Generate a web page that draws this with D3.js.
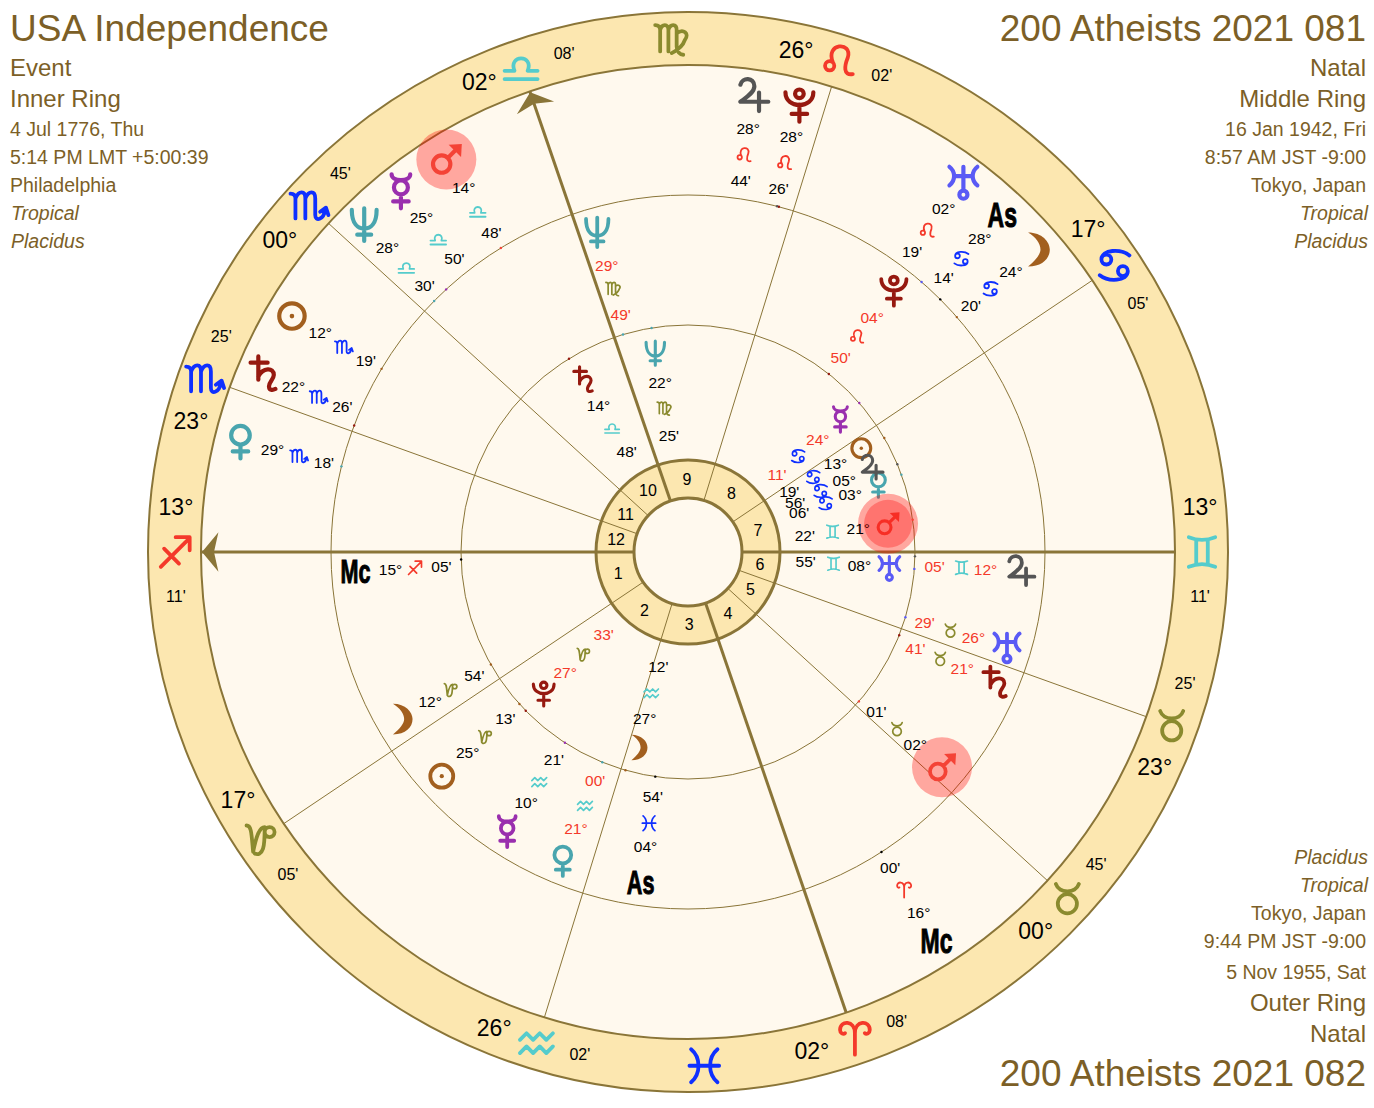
<!DOCTYPE html>
<html lang="en">
<head>
<meta charset="utf-8">
<style>
body { margin: 0; background: #fff; }
svg { display: block; font-family: "Liberation Sans", Arial, sans-serif; }
</style>
</head>
<body>
<svg width="1374" height="1108"></svg>
<script src="https://d3js.org/d3.v7.min.js"></script>
<script>
// zodiac order, longitude = index * 30 + degrees
var signs = ["Ari","Tau","Gem","Can","Leo","Vir","Lib","Sco","Sag","Cap","Aqu","Pis"];

// house cusps 1..12: degree, sign, minute
var cusps = [
  [13,"Sag",11],[17,"Cap",5],[26,"Aqu",2],[2,"Ari",8],[0,"Tau",45],[23,"Tau",25],
  [13,"Gem",11],[17,"Can",5],[26,"Leo",2],[2,"Lib",8],[0,"Sco",45],[23,"Sco",25]
];
// signs with no cusp in them, only the glyph is printed
var intercepted = ["Vir","Pis"];

// body, degree, sign, minute, retrograde, longitude where the label column sits
var innerBodies = [
  ["Sun",13,"Can",19,false,104.1],
  ["Moon",27,"Aqu",12,false,328.6],
  ["Mercury",24,"Can",11,true,114.2],
  ["Venus",3,"Can",6,false,92.7],
  ["Mars",21,"Gem",22,false,81.2],
  ["Jupiter",5,"Can",56,false,97.9],
  ["Saturn",14,"Lib",48,false,194.5],
  ["Uranus",8,"Gem",55,false,68.6],
  ["Neptune",22,"Vir",25,false,172.5],
  ["Pluto",27,"Cap",33,true,297.6]
];
var middleBodies = [
  ["Sun",25,"Cap",13,false,295.5],
  ["Moon",12,"Cap",54,false,283.3],
  ["Mercury",10,"Aqu",21,false,310.3],
  ["Venus",21,"Aqu",0,true,321.1],
  ["Mars",2,"Tau",1,false,32.9],
  ["Jupiter",12,"Gem",5,true,69.9],
  ["Saturn",21,"Tau",41,true,50.2],
  ["Uranus",26,"Tau",29,true,56.5],
  ["Neptune",29,"Vir",49,true,179],
  ["Pluto",4,"Leo",50,true,125],
  ["As",4,"Pis",54,false,335],
  ["Mc",15,"Sag",5,false,256.5]
];
var outerBodies = [
  ["Sun",12,"Sco",19,false,222.4],
  ["Moon",24,"Can",20,false,114.2],
  ["Mercury",25,"Lib",50,false,201.7],
  ["Venus",29,"Sco",18,false,239.3],
  ["Mars",14,"Lib",48,false,194.8],
  ["Jupiter",28,"Leo",44,false,155.1],
  ["Saturn",22,"Sco",26,false,230.4],
  ["Uranus",2,"Leo",19,false,126.5],
  ["Neptune",28,"Lib",30,false,207.8],
  ["Pluto",28,"Leo",26,false,149.2],
  ["As",28,"Can",14,false,120.2],
  ["Mc",16,"Ari",0,false,15.8]
];

// corner captions
var innerCaption = ["USA Independence","Event","Inner Ring","4 Jul 1776, Thu","5:14 PM LMT +5:00:39","Philadelphia","Tropical","Placidus"];
var middleCaption = ["200 Atheists 2021 081","Natal","Middle Ring","16 Jan 1942, Fri","8:57 AM JST -9:00","Tokyo, Japan","Tropical","Placidus"];
var outerCaption = ["200 Atheists 2021 082","Natal","Outer Ring","5 Nov 1955, Sat","9:44 PM JST -9:00","Tokyo, Japan","Tropical","Placidus"];

var brown = "#7c5f27", line = "#8a7538", band = "#fce7b0", cream = "#fff9ee";
var cx = 688, cy = 552;

var bodyColor = {Sun:"#a25f1e",Moon:"#a25f1e",Mercury:"#9a2fae",Venus:"#49a5ae",Mars:"#f44336",
  Jupiter:"#555555",Saturn:"#96190f",Uranus:"#5a5af5",Neptune:"#49a5ae",Pluto:"#96190f",As:"#000",Mc:"#000"};
var signColor = {Ari:"#f4392a",Leo:"#f4392a",Sag:"#f4392a",Tau:"#8a8a2e",Vir:"#8a8a2e",Cap:"#8a8a2e",
  Gem:"#55cccc",Lib:"#55cccc",Aqu:"#55cccc",Can:"#0f30ff",Sco:"#0f30ff",Pis:"#0f30ff"};

function ring(x, y, r) {
  return "M" + (x - r) + "," + y + "a" + r + "," + r + " 0 1,0 " + (2 * r) + ",0a" + r + "," + r + " 0 1,0 " + (-2 * r) + ",0";
}

// glyph outlines in a box of about +-10; dot = extra filled part
var glyphs = {
  Sun: {d: ring(0,0,8.2), dot: ring(0,0,1.5)},
  Moon: {d: "", dot: "M-5,-11C4,-11 9,-5 9,0C9,6 4,11 -5,11C0,7 3,3 3,0C3,-4 0,-8 -5,-11Z"},
  Mercury: {d: "M-6,-11C-6,-6 6,-6 6,-11" + ring(0,-2.5,4.5) + "M0,2V11M-5,6.5H5"},
  Venus: {d: ring(0,-4,6) + "M0,2V11M-5,6.5H5"},
  Mars: {d: ring(-3,3,5.6) + "M1,-1L7,-7", dot: "M1.5,-9.5L10,-10L9.5,-1.5Z"},
  Jupiter: {d: "M-8,-7C-7,-12 1,-12 1,-6C1,-2 -4,1 -8,4H10M4,-2V10"},
  Saturn: {d: "M-3,-11V4M-8,-7H3M-3,2C0,-4 7,-4 7,1C7,4 3,6 4,9C4,10.5 6,11 8,10"},
  Uranus: {d: "M-9,-10C-5,-7 -5,-1 -9,2M9,-10C5,-7 5,-1 9,2M-6,-4H6M0,-10V5" + ring(0,8,2.6)},
  Neptune: {d: "M-8,-9C-8,0 -4,3 0,3C4,3 8,0 8,-9M0,-10V11M-4.5,7H4.5"},
  Pluto: {d: "M-9,-8C-9,3 9,3 9,-8" + ring(0,-7,2.8) + "M0,0V11M-5,6H5"},
  Ari: {d: "M0,10V-3C0,-11 -9,-11 -9,-5C-9,-3 -7,-2 -6,-3M0,-3C0,-11 9,-11 9,-5C9,-3 7,-2 6,-3"},
  Tau: {d: ring(0,3,5.8) + "M-7,-9C-5,-3 5,-3 7,-9"},
  Gem: {d: "M-8,-9C-3,-7 3,-7 8,-9M-8,9C-3,7 3,7 8,9M-3.5,-7.5V7.5M3.5,-7.5V7.5"},
  Can: {d: ring(-5,-3.5,3) + ring(5,3.5,3) + "M-8,-3.5C-8,-10 4,-10 9,-6M8,3.5C8,10 -4,10 -9,6"},
  Leo: {d: ring(-6,3,2.8) + "M-4,1C-9,-11 8,-12 5,-2C3,3 2,9 8,8"},
  Vir: {d: "M-10,-8C-8,-8 -7,-7 -7,-5V8M-7,-5C-6,-9 -2,-9 -2,-5V8M-2,-5C-1,-9 3,-9 3,-5V5C3,8 5,10 7,10M3,-3C7,-6 11,-3 8,1C7,4 4,7 0,9"},
  Lib: {d: "M-10,8H10M-10,3H-4C-8,-7 8,-7 4,3H10"},
  Sco: {d: "M-11,-7C-9,-7 -8,-6 -8,-4V8M-8,-4C-6,-9 -2,-9 -2,-4V8M-2,-4C0,-9 4,-9 4,-4V6C4,10 9,9 10,3M7,4L10.5,1.5L12,6"},
  Sag: {d: "M-8,9L9,-8M1,-9H9.5V-1M-6,-2L3,7"},
  Cap: {d: "M-9,-8C-6,-8 -6,-3 -5,8C-3,-2 -1,-7 2,-7C2,-2 2,3 1,6C0,9 -2,10 -4,9" + ring(5,-4,3)},
  Aqu: {d: "M-10,-2L-6,-6L-2,-2L2,-6L6,-2L10,-6M-10,6L-6,2L-2,6L2,2L6,6L10,2"},
  Pis: {d: "M-8,-10C-2,-5 -2,5 -8,10M8,-10C2,-5 2,5 8,10M-9,0H9"}
};

function longitude(deg, sign, min) { return signs.indexOf(sign) * 30 + deg + min / 60; }
function pad(n) { return (n < 10 ? "0" : "") + n; }

var asc = longitude(cusps[0][0], cusps[0][1], cusps[0][2]);
// chart turns anticlockwise, ascendant on the left
var angle = d3.scaleLinear().domain([asc, asc + 360]).range([Math.PI, 3 * Math.PI]);
function px(lon, r) { return cx + r * Math.cos(angle(lon)); }
function py(lon, r) { return cy - r * Math.sin(angle(lon)); }

var svg = d3.select("svg");

function drawGlyph(parent, name, lon, r, scale, color, sw) {
  var g = parent.append("g")
    .attr("transform", "translate(" + px(lon, r) + "," + py(lon, r) + ") scale(" + scale + ")");
  var def = glyphs[name];
  if (def.d) g.append("path").attr("d", def.d).attr("fill", "none").attr("stroke", color)
    .attr("stroke-width", sw).attr("stroke-linecap", "round").attr("stroke-linejoin", "round");
  if (def.dot) g.append("path").attr("d", def.dot).attr("fill", color);
}

function label(parent, str, lon, r, size, color) {
  parent.append("text")
    .attr("x", px(lon, r)).attr("y", py(lon, r))
    .attr("text-anchor", "middle").attr("dominant-baseline", "central")
    .attr("font-size", size).attr("fill", color).text(str);
}

// discs, outermost first
var discs = [[540,band,2],[487,cream,2],[357,"none",1],[227,"none",1],[92,band,3],[54,cream,3]];
svg.append("g").selectAll("circle").data(discs).enter().append("circle")
  .attr("cx", cx).attr("cy", cy)
  .attr("r", function(d) { return d[0]; })
  .attr("fill", function(d) { return d[1]; })
  .attr("stroke", line)
  .attr("stroke-width", function(d) { return d[2]; });

var cuspLon = cusps.map(function(c) { return longitude(c[0], c[1], c[2]); });

// house lines, the four angles are heavier
svg.append("g").selectAll("line").data(cuspLon).enter().append("line")
  .attr("x1", function(d) { return px(d, 54); })
  .attr("y1", function(d) { return py(d, 54); })
  .attr("x2", function(d) { return px(d, 487); })
  .attr("y2", function(d) { return py(d, 487); })
  .attr("stroke", line)
  .attr("stroke-width", function(d, i) { return i % 3 == 0 ? 3 : 1; });

// arrow heads on ascendant and midheaven
[cuspLon[0], cuspLon[9]].forEach(function(lon) {
  var a = 2.4;
  var pts = [[px(lon, 486), py(lon, 486)], [px(lon + a, 470), py(lon + a, 470)], [px(lon, 474), py(lon, 474)], [px(lon - a, 470), py(lon - a, 470)]];
  svg.append("polygon").attr("points", pts.join(" ")).attr("fill", line);
});

// house numbers
var numbers = svg.append("g");
cuspLon.forEach(function(lon, i) {
  var next = cuspLon[(i + 1) % 12];
  if (next < lon) next += 360;
  label(numbers, String(i + 1), (lon + next) / 2, 73, 16, "#000");
});

// zodiac band
var bandG = svg.append("g");
cusps.forEach(function(c, i) {
  var lon = cuspLon[i];
  var side = i < 6 ? -5 : 5;
  drawGlyph(bandG, c[1], lon, 514, 1.65, signColor[c[1]], 2.3);
  label(bandG, pad(c[0]) + "°", lon + side, 514, 23, "#000");
  label(bandG, pad(c[2]) + "'", lon - side, 514, 16, "#000");
});
intercepted.forEach(function(s) {
  drawGlyph(bandG, s, longitude(15, s, 0), 514, 1.65, signColor[s], 2.3);
});

function drawBodies(list, tickR, glyphR, degR, signR, minR, scale, signScale, fontSize, asSize) {
  var g = svg.append("g");
  list.forEach(function(b) {
    var name = b[0], shown = b[5], real = longitude(b[1], b[2], b[3]);
    var txt = b[4] ? "#f4392a" : "#000";
    if (name == "As" || name == "Mc") {
      g.append("text")
        .attr("transform", "translate(" + px(shown, glyphR) + "," + py(shown, glyphR) + ") scale(0.72,1.12)")
        .attr("text-anchor", "middle").attr("dominant-baseline", "central")
        .attr("font-size", asSize).attr("font-weight", "bold")
        .attr("stroke", "#000").attr("stroke-width", 0.9).attr("fill", "#000").text(name);
    } else {
      if (name == "Mars") {
        g.append("circle").attr("cx", px(shown, glyphR)).attr("cy", py(shown, glyphR))
          .attr("r", 30).attr("fill", "#ff0000").attr("fill-opacity", 0.33);
      }
      drawGlyph(g, name, shown, glyphR, scale, bodyColor[name], 2.7);
    }
    // small tick at the true position
    g.append("circle").attr("cx", px(real, tickR)).attr("cy", py(real, tickR)).attr("r", 1.2)
      .attr("fill", bodyColor[name]);
    label(g, pad(b[1]) + "°", shown, degR, fontSize, txt);
    drawGlyph(g, b[2], shown, signR, signScale, signColor[b[2]], 2.3);
    label(g, pad(b[3]) + "'", shown, minR, fontSize, txt);
  });
  return g;
}

drawBodies(innerBodies, 227, 202, 172, 146, 118, 1.15, 0.72, 15.5, 30);
drawBodies(middleBodies, 227, 333, 298, 274, 247, 1.4, 0.74, 15.5, 30);
drawBodies(outerBodies, 357, 461, 428, 401, 375, 1.55, 0.78, 15.5, 32);

// inner ring mars carries a second, smaller disc
var innerMars = innerBodies[4];
svg.append("circle").attr("cx", px(innerMars[5], 202)).attr("cy", py(innerMars[5], 202))
  .attr("r", 24).attr("fill", "#ff0000").attr("fill-opacity", 0.3);

// captions: text, font size, style
var sizes = [37, 24, 24, 19.5, 19.5, 19.5, 19.5, 19.5];
var topY = [41, 76, 107, 136, 164, 192, 220, 248];
var bottomY = [1086, 1042, 1011, 979, 948, 920, 892, 864];

function caption(lines, ys, x, anchor) {
  svg.append("g").selectAll("text").data(lines).enter().append("text")
    .attr("x", function(d, i) { return i > 5 ? x + (anchor == "end" ? 2 : 1) : x; })
    .attr("y", function(d, i) { return ys[i]; })
    .attr("text-anchor", anchor)
    .attr("font-size", function(d, i) { return sizes[i]; })
    .attr("font-style", function(d, i) { return i > 5 ? "italic" : "normal"; })
    .attr("fill", brown)
    .text(function(d) { return d; });
}
caption(innerCaption, topY, 10, "start");
caption(middleCaption, topY, 1366, "end");
caption(outerCaption, bottomY, 1366, "end");
</script>
</body>
</html>
